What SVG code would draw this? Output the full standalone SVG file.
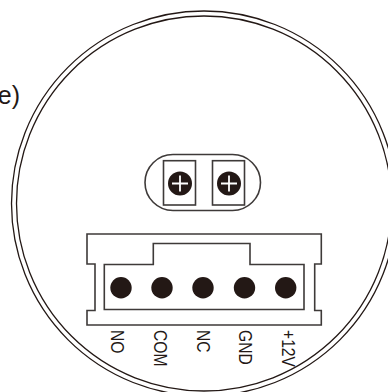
<svg xmlns="http://www.w3.org/2000/svg" width="388" height="392" viewBox="0 0 388 392">
<style>
.l{fill:none;stroke:#3e3a39;stroke-width:1.6}
.r{fill:none;stroke:#231815;stroke-width:1.3}
.d{fill:#231815}
.p{stroke:#fff;stroke-width:1.8;fill:none}
text{font-family:"Liberation Sans",Arial,sans-serif;fill:#231815}
.t{font-size:18px}
</style>
<rect width="388" height="392" fill="#fff"/>
<g id="ring"><circle class="r" cx="204" cy="203.500" r="192.500"/><circle class="r" cx="204" cy="203.500" r="187.500"/></g>
<text id="caption" x="20" y="104" text-anchor="end" font-size="25">e)</text>
<g id="terminal-block">
<rect class="l" x="145" y="154.500" width="115.500" height="56" rx="28" ry="28"/>
<rect class="l" x="163.500" y="160.700" width="32" height="44.300"/>
<rect class="l" x="212.500" y="160.700" width="32" height="44.300"/>
<circle class="d" cx="180" cy="183.500" r="12"/>
<circle class="d" cx="229" cy="183.500" r="12"/>
<path class="p" d="M172 183.500h16M180 175.500v16M221 183.500h16M229 175.500v16"/>
</g>
<g id="connector">
<path class="l" d="M87 234H321.300V264H314.700V310.500H321.300V325H87V310.500H95V264H87Z"/>
<path class="l" d="M104.300 264.500H153.300V243.500H250V264.500H304V309.500H104.300Z"/>
<circle class="d" cx="121" cy="287.700" r="10.700"/>
<circle class="d" cx="162" cy="287.700" r="10.700"/>
<circle class="d" cx="203" cy="287.700" r="10.700"/>
<circle class="d" cx="244.500" cy="287.700" r="10.700"/>
<circle class="d" cx="285.700" cy="287.700" r="10.700"/>
</g>
<g id="labels">
<text class="t" transform="translate(111 330) rotate(90) scale(.87 1.05)">NO</text>
<text class="t" transform="translate(153.500 330) rotate(90) scale(.87 1.05)">COM</text>
<text class="t" transform="translate(196.700 330) rotate(90) scale(.87 1.05)">NC</text>
<text class="t" transform="translate(239.300 330) rotate(90) scale(.87 1.05)">GND</text>
<text class="t" transform="translate(282 330) rotate(90) scale(.87 1.05)">+12V</text>
</g>
</svg>
